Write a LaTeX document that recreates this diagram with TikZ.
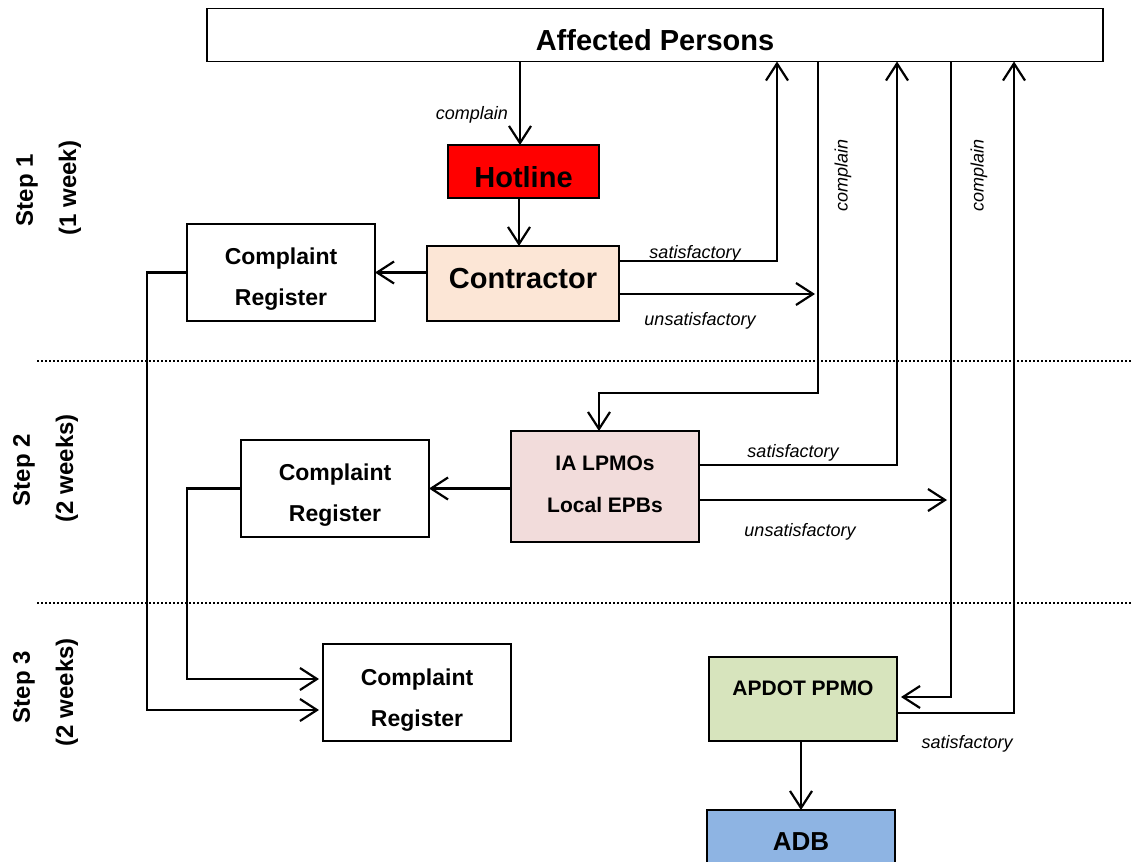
\documentclass[tikz,border=0pt]{standalone}
\usepackage{fontspec}
\setmainfont{Liberation Sans}
\usetikzlibrary{arrows.meta}
\definecolor{hotred}{HTML}{FF0000}
\definecolor{peach}{HTML}{FCE6D6}
\definecolor{rosy}{HTML}{F2DCDB}
\definecolor{sage}{HTML}{D7E4BD}
\definecolor{skyb}{HTML}{8EB4E3}
\begin{document}
\begin{tikzpicture}[x=1pt,y=-1pt,
  box/.style={draw=black, line width=1.8pt, rectangle, inner sep=0pt, outer sep=0pt},
  txt/.style={inner sep=0pt, align=center},
  big/.style={txt, font=\bfseries\fontsize{29}{34}\selectfont},
  reg/.style={txt, font=\bfseries\fontsize{23}{41}\selectfont},
  mid/.style={txt, font=\bfseries\fontsize{21}{42}\selectfont},
  lbl/.style={font=\itshape\fontsize{18}{20}\selectfont, inner sep=0pt},
  steplbl/.style={font=\bfseries\fontsize{24}{28}\selectfont, rotate=90, inner sep=0pt},
  conn/.style={line width=2.2pt},
  arr/.style={conn, -{Straight Barb[length=17pt,width=22pt]}},
  sep/.style={line width=2pt, dash pattern=on 2pt off 2pt}
]
\useasboundingbox (0,0) rectangle (1131,861);
\clip (0,0) rectangle (1131,861);

% separators
\coordinate (d1a) at (37,361);
\coordinate (d1b) at (1131,361);
\coordinate (d2a) at (37,603);
\coordinate (d2b) at (1131,603);
\draw[sep] (d1a) -- (d1b);
\draw[sep] (d2a) -- (d2b);

% step labels
\node[steplbl] (st1) at (27,190) {Step 1};
\node[steplbl] (st1w) at (70,188) {(1 week)};
\node[steplbl] (st2) at (24,470) {Step 2};
\node[steplbl] (st2w) at (67,468) {(2 weeks)};
\node[steplbl] (st3) at (24,687) {Step 3};
\node[steplbl] (st3w) at (67,692) {(2 weeks)};

% boxes
\node[box, minimum width=896, minimum height=53, fill=white] (aff) at (655,35) {};
\node[big] (afft) at (655,40) {Affected Persons};
\node[box, minimum width=151, minimum height=53, fill=hotred] (hot) at (523.5,171.5) {};
\node[big] (hott) at (523.5,177) {Hotline};
\node[box, minimum width=192, minimum height=75, fill=peach] (con) at (523,283.5) {};
\node[big] (cont) at (523,278.5) {Contractor};
\node[box, minimum width=188, minimum height=97] (cr1) at (281,272.5) {};
\node[reg] (cr1t) at (281,279.5) {Complaint\\Register};
\node[box, minimum width=188, minimum height=97] (cr2) at (335,488.5) {};
\node[reg] (cr2t) at (335,495.5) {Complaint\\Register};
\node[box, minimum width=188, minimum height=97] (cr3) at (417,692.5) {};
\node[reg] (cr3t) at (417,700.5) {Complaint\\Register};
\node[box, minimum width=188, minimum height=111, fill=rosy] (ia) at (605,486.5) {};
\node[mid] (iat) at (605,484.5) {IA LPMOs\\Local EPBs};
\node[box, minimum width=188, minimum height=84, fill=sage] (apdot) at (803,699) {};
\node[mid] (apdott) at (803,688) {APDOT PPMO};
\node[box, minimum width=188, minimum height=62, fill=skyb] (adb) at (801,841) {};
\node[txt, font=\bfseries\fontsize{26}{30}\selectfont] (adbt) at (801,842) {ADB};

% bend coordinates
\coordinate (s1) at (777,261);
\coordinate (u1) at (815,294);
\coordinate (c1) at (818,393);
\coordinate (c1b) at (599,393);
\coordinate (s2) at (897,465);
\coordinate (u2) at (947,500);
\coordinate (c2) at (951,697);
\coordinate (s3) at (1014,713);
\coordinate (k1) at (147,710);
\coordinate (k2) at (187,679);

% connectors
\draw[arr] (aff.south -| 520,0) -- (hot.north -| 520,0);
\draw[arr] (hot.south -| 519,0) -- (con.north -| 519,0);
\draw[arr] (con.west |- cr1.east) -- (cr1.east);
\draw[arr] (s1 -| con.east) -- (s1) -- (s1 |- aff.south);
\draw[arr] (u1 -| con.east) -- (u1);
\draw[arr] (c1 |- aff.south) -- (c1) -- (c1b) -- (c1b |- ia.north);
\draw[arr] (s2 -| ia.east) -- (s2) -- (s2 |- aff.south);
\draw[arr] (u2 -| ia.east) -- (u2);
\draw[arr] (ia.west |- cr2.east) -- (cr2.east);
\draw[arr] (c2 |- aff.south) -- (c2) -- ([xshift=4pt]c2 -| apdot.east);
\draw[arr] (s3 -| apdot.east) -- (s3) -- (s3 |- aff.south);
\draw[arr] (adb.north |- apdot.south) -- (adb.north);
\draw[arr] (cr1.west) -- (cr1.west -| k1) -- (k1) -- ([xshift=-4pt]k1 -| cr3.west);
\draw[arr] (cr2.west) -- (cr2.west -| k2) -- (k2) -- ([xshift=-4pt]k2 -| cr3.west);

% labels
\node[lbl, anchor=east] (lc0) at (508,115) {complain};
\node[lbl] (ls1) at (695,254) {satisfactory};
\node[lbl] (lu1) at (700,321) {unsatisfactory};
\node[lbl, rotate=90] (lc1) at (843,175) {complain};
\node[lbl, rotate=90] (lc2) at (979,175) {complain};
\node[lbl] (ls2) at (793,453) {satisfactory};
\node[lbl] (lu2) at (800,532) {unsatisfactory};
\node[lbl] (ls3) at (967,744) {satisfactory};
\end{tikzpicture}
\end{document}
